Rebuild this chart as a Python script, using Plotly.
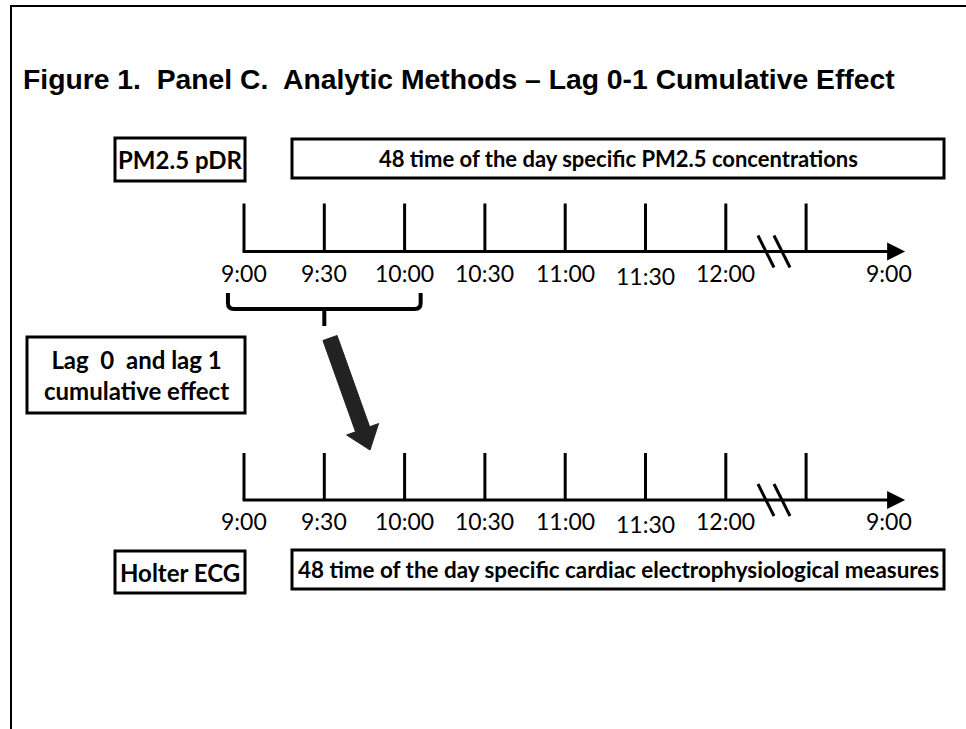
import math
import plotly.graph_objects as go

# ---------------- data ----------------
tick_labels = ["9:00", "9:30", "10:00", "10:30", "11:00", "11:30", "12:00"]
tick_minutes = [0, 30, 60, 90, 120, 150, 180, 210]   # minutes after 9:00 (last tick follows the break)
end_label = "9:00"
end_label_minute = 241
break_minute = 198
arrow_end_minute = 247
bracket_minutes = [-6, 66]      # span of the lag 0-1 window (9:00 to 10:00)

title_text = "Figure 1.  Panel C.  Analytic Methods \u2013 Lag 0-1 Cumulative Effect"
top_label = "PM2.5 pDR"
top_desc = "48 time of the day specific PM2.5 concentrations"
lag_text = "Lag  0  and lag 1<br>cumulative effect"
bottom_label = "Holter ECG"
bottom_desc = "48 time of the day specific cardiac electrophysiological measures"

# ---------------- layout constants ----------------
W, H = 966, 729
X0_PX = 244.0          # pixel of 9:00
PX_PER_30 = 80.3       # pixels per 30 minutes
xmin = -X0_PX / PX_PER_30 * 30
xmax = (W - X0_PX) / PX_PER_30 * 30
MIN_PER_PX = 30 / PX_PER_30

def px2min(p):
    return (p - X0_PX) * MIN_PER_PX

def pfx(p):  # pixel -> paper x
    return p / W

rows = [251.5, 500]       # axis line y (pixels)
tick_h = [48, 47]
BLACK = "#000000"
CAL = "Lato"

shapes = []
annotations = []

# frame
shapes.append(dict(type="line", xref="paper", yref="y", x0=pfx(10), x1=1, y0=6, y1=6,
                   line=dict(color=BLACK, width=2)))
shapes.append(dict(type="line", xref="paper", yref="y", x0=pfx(11), x1=pfx(11), y0=6, y1=H,
                   line=dict(color=BLACK, width=2)))

# title
annotations.append(dict(text="<b>" + title_text + "</b>", xref="paper", yref="y",
                        x=pfx(21), y=79, xanchor="left", yanchor="middle", showarrow=False,
                        font=dict(family="Liberation Sans", size=28.3, color=BLACK)))

def box(x0, x1, y0, y1, text, size, family=CAL):
    shapes.append(dict(type="rect", xref="paper", yref="y", x0=pfx(x0), x1=pfx(x1), y0=y0, y1=y1,
                       line=dict(color=BLACK, width=3), fillcolor="white"))
    annotations.append(dict(text="<b>" + text + "</b>", xref="paper", yref="y",
                            x=pfx((x0 + x1) / 2), y=(y0 + y1) / 2, xanchor="center", yanchor="middle",
                            showarrow=False, font=dict(family=family, size=size, color=BLACK)))

box(115, 245, 138, 181, top_label, 24)
box(292, 944, 139, 178, top_desc, 22)
box(27, 245, 337, 413, lag_text, 24)
box(115, 245, 551, 593, bottom_label, 24)
box(292, 944, 550, 589, bottom_desc, 22.4)

# timelines
for yl, th in zip(rows, tick_h):
    shapes.append(dict(type="line", xref="x", yref="y", x0=tick_minutes[0] - 0.5, x1=arrow_end_minute - 4,
                       y0=yl, y1=yl, line=dict(color=BLACK, width=3)))
    annotations.append(dict(x=arrow_end_minute, y=yl, ax=arrow_end_minute - 6, ay=yl,
                            xref="x", yref="y", axref="x", ayref="y", showarrow=True,
                            arrowhead=2, arrowsize=1.2, arrowwidth=3, arrowcolor=BLACK, text=""))
    for m in tick_minutes:
        shapes.append(dict(type="line", xref="x", yref="y", x0=m, x1=m, y0=yl - th, y1=yl,
                           line=dict(color=BLACK, width=3)))
    for m, lab in zip(tick_minutes, tick_labels):
        annotations.append(dict(text=lab, x=m, y=yl + 21 + (3 if lab == "11:30" else 0),
                                xref="x", yref="y", showarrow=False, xanchor="center", yanchor="middle",
                                font=dict(family=CAL, size=23, color=BLACK)))
    annotations.append(dict(text=end_label, x=end_label_minute, y=yl + 21, xref="x", yref="y",
                            showarrow=False, xanchor="center", yanchor="middle",
                            font=dict(family=CAL, size=23, color=BLACK)))
    for off in (-8, 8):
        c = break_minute + off * MIN_PER_PX
        shapes.append(dict(type="line", xref="x", yref="y",
                           x0=c - 8 * MIN_PER_PX, x1=c + 8 * MIN_PER_PX, y0=yl - 16, y1=yl + 16,
                           line=dict(color=BLACK, width=3)))

# bracket under 9:00 - 10:00
bl, br = bracket_minutes
bm = (bl + br) / 2
r = 6 * MIN_PER_PX
path = (f"M {bl},293 L {bl},303 Q {bl},309 {bl + r},309 L {br - r},309 "
        f"Q {br},309 {br},303 L {br},293")
shapes.append(dict(type="path", xref="x", yref="y", path=path, line=dict(color=BLACK, width=4)))
shapes.append(dict(type="line", xref="x", yref="y", x0=bm, x1=bm, y0=309, y1=326,
                   line=dict(color=BLACK, width=4)))

# thick arrow from bracket to lower timeline
sx, sy = 330.0, 338.0
tx, ty = 370.0, 450.0
dx, dy = tx - sx, ty - sy
L = math.hypot(dx, dy)
ux, uy = dx / L, dy / L
nx, ny = -uy, ux
sw, hw, hl = 7.5, 17.0, 22.0
bx, by = tx - hl * ux, ty - hl * uy
pts = [
    (sx + sw * nx, sy + sw * ny), (bx + sw * nx, by + sw * ny), (bx + hw * nx, by + hw * ny),
    (tx, ty),
    (bx - hw * nx, by - hw * ny), (bx - sw * nx, by - sw * ny), (sx - sw * nx, sy - sw * ny),
]
apath = "M " + " L ".join(f"{px2min(p[0])},{p[1]}" for p in pts) + " Z"
shapes.append(dict(type="path", xref="x", yref="y", path=apath, fillcolor="#222222",
                   line=dict(color="#222222", width=1)))

fig = go.Figure()
fig.add_trace(go.Scatter(x=[tick_minutes[0]], y=[rows[0]], mode="markers",
                         marker=dict(size=1, color="rgba(0,0,0,0)"), hoverinfo="skip", showlegend=False))
fig.update_layout(
    width=W, height=H, margin=dict(l=0, r=0, t=0, b=0),
    paper_bgcolor="white", plot_bgcolor="white", showlegend=False,
    xaxis=dict(range=[xmin, xmax], visible=False, fixedrange=True),
    yaxis=dict(range=[H, 0], visible=False, fixedrange=True),
    shapes=shapes, annotations=annotations,
)
fig.write_html("out.html", config={"displayModeBar": False},
               post_script="document.body.style.margin='0px';document.body.style.overflow='hidden';")
